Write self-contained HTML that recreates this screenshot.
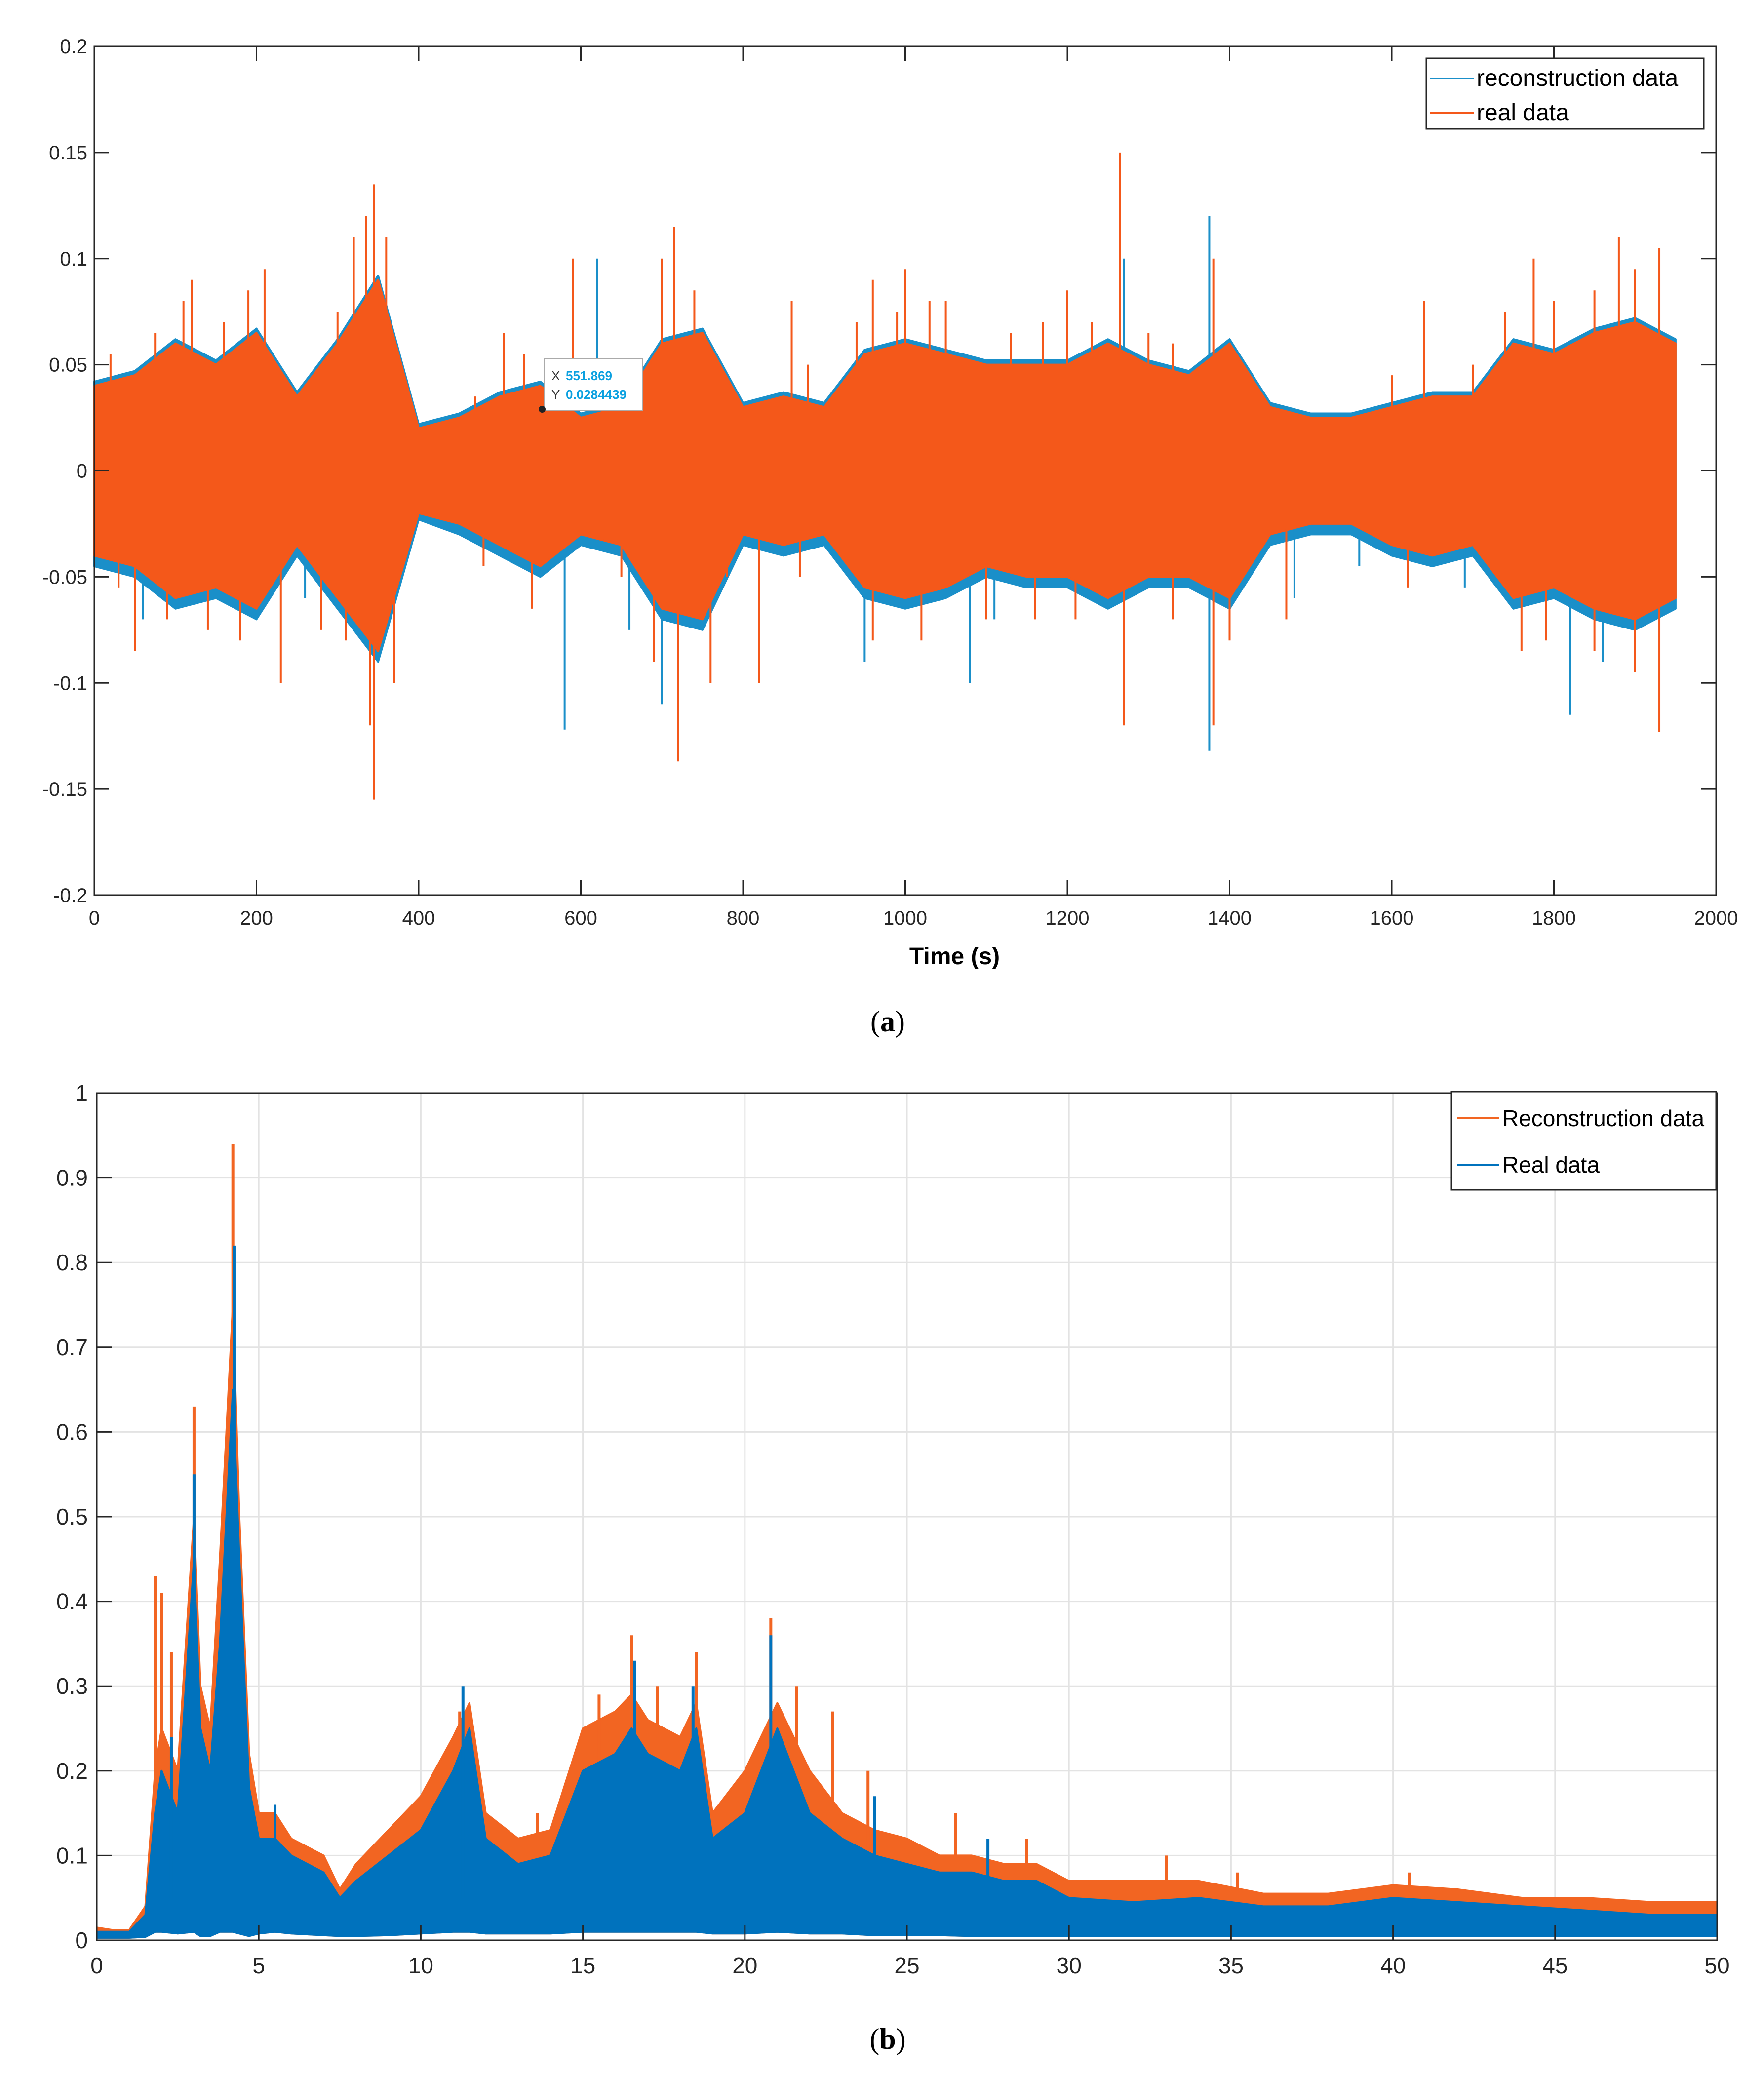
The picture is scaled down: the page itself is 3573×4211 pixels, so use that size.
<!DOCTYPE html>
<html><head><meta charset="utf-8"><style>
html,body{margin:0;padding:0;background:#fff;}
svg{display:block;font-family:"Liberation Sans",Arial,sans-serif;}
</style></head><body>
<svg id="fig" width="3573" height="4211" viewBox="0 0 3573 4211" xmlns="http://www.w3.org/2000/svg">
<rect width="3573" height="4211" fill="#fff"/>
<g id="chartA"></g>
<g id="chartB"></g>
</svg>
<script>
// ---------- Chart (a) data ----------
const aTime = [0,50,100,150,200,250,300,350,400,450,500,550,600,650,700,750,800,850,900,950,1000,1050,1100,1150,1200,1250,1300,1350,1400,1450,1500,1550,1600,1650,1700,1750,1800,1850,1900,1950];
const aOrangeUp = [0.04,0.045,0.06,0.05,0.065,0.035,0.06,0.09,0.02,0.025,0.035,0.04,0.025,0.03,0.06,0.065,0.03,0.035,0.03,0.055,0.06,0.055,0.05,0.05,0.05,0.06,0.05,0.045,0.06,0.03,0.025,0.025,0.03,0.035,0.035,0.06,0.055,0.065,0.07,0.06];
const aOrangeLo = [-0.04,-0.045,-0.06,-0.055,-0.065,-0.035,-0.06,-0.085,-0.02,-0.025,-0.035,-0.045,-0.03,-0.035,-0.065,-0.07,-0.03,-0.035,-0.03,-0.055,-0.06,-0.055,-0.045,-0.05,-0.05,-0.06,-0.05,-0.05,-0.06,-0.03,-0.025,-0.025,-0.035,-0.04,-0.035,-0.06,-0.055,-0.065,-0.07,-0.06];
const aBlueUp = [0.042,0.047,0.062,0.052,0.067,0.037,0.062,0.092,0.022,0.027,0.037,0.042,0.027,0.032,0.062,0.067,0.032,0.037,0.032,0.057,0.062,0.057,0.052,0.052,0.052,0.062,0.052,0.047,0.062,0.032,0.027,0.027,0.032,0.037,0.037,0.062,0.057,0.067,0.072,0.062];
const aBlueLo = [-0.045,-0.05,-0.065,-0.06,-0.07,-0.04,-0.065,-0.09,-0.023,-0.03,-0.04,-0.05,-0.035,-0.04,-0.07,-0.075,-0.035,-0.04,-0.035,-0.06,-0.065,-0.06,-0.05,-0.055,-0.055,-0.065,-0.055,-0.055,-0.065,-0.035,-0.03,-0.03,-0.04,-0.045,-0.04,-0.065,-0.06,-0.07,-0.075,-0.065];
const aOrangeSpikeT = [345,335,210,590,715,700,1265,1380,1880,1930,1775,1000,960,1050,505,120,860,1200,1640,345,340,720,230,1270,1930,760,50,820,1380,
  20,75,110,160,190,300,320,360,470,530,660,740,880,940,990,1030,1130,1170,1230,1300,1330,1420,1600,1700,1740,1800,1850,1900,
  30,90,140,180,280,310,370,480,540,650,690,780,870,960,1020,1100,1160,1210,1330,1400,1470,1620,1760,1790,1850,1900];
const aOrangeSpikeV = [0.135,0.12,0.095,0.1,0.115,0.1,0.15,0.1,0.11,0.105,0.1,0.095,0.09,0.08,0.065,0.09,0.08,0.085,0.08,-0.155,-0.12,-0.137,-0.1,-0.12,-0.123,-0.1,-0.085,-0.1,-0.12,
  0.055,0.065,0.08,0.07,0.085,0.075,0.11,0.11,0.035,0.055,0.045,0.085,0.05,0.07,0.075,0.08,0.065,0.07,0.07,0.065,0.06,0.045,0.045,0.05,0.075,0.08,0.085,0.095,
  -0.055,-0.07,-0.075,-0.08,-0.075,-0.08,-0.1,-0.045,-0.065,-0.05,-0.09,-0.05,-0.05,-0.08,-0.08,-0.07,-0.07,-0.07,-0.07,-0.08,-0.07,-0.055,-0.085,-0.08,-0.085,-0.095];
const aBlueSpikeT = [1375,620,1270,580,1375,1820,700,1270,1080,950,60,260,660,1110,1480,1560,1690,1860];
const aBlueSpikeV = [0.12,0.1,0.1,-0.122,-0.132,-0.115,-0.11,-0.115,-0.1,-0.09,-0.07,-0.06,-0.075,-0.07,-0.06,-0.045,-0.055,-0.09];
const aXTicks = [0,200,400,600,800,1000,1200,1400,1600,1800,2000];
const aYTicks = [-0.2,-0.15,-0.1,-0.05,0,0.05,0.1,0.15,0.2];
const aYLabels = ["-0.2","-0.15","-0.1","-0.05","0","0.05","0.1","0.15","0.2"];

// ---------- Chart (b) data ----------
const bFreq = [0,0.5,1,1.5,1.8,2,2.5,3,3.2,3.5,3.8,4,4.2,4.4,4.7,5,5.5,6,7,7.5,8,9,10,11,11.5,12,13,14,15,16,16.5,17,18,18.5,19,20,21,22,23,24,25,26,27,28,29,30,32,34,36,38,40,42,44,46,48,50];
const bBlueUp = [0.01,0.01,0.01,0.03,0.15,0.2,0.15,0.45,0.25,0.2,0.35,0.5,0.65,0.45,0.18,0.12,0.12,0.1,0.08,0.05,0.07,0.1,0.13,0.2,0.25,0.12,0.09,0.1,0.2,0.22,0.25,0.22,0.2,0.25,0.12,0.15,0.25,0.15,0.12,0.1,0.09,0.08,0.08,0.07,0.07,0.05,0.045,0.05,0.04,0.04,0.05,0.045,0.04,0.035,0.03,0.03];
const bOrangeUp = [0.015,0.012,0.012,0.04,0.2,0.25,0.2,0.5,0.3,0.25,0.45,0.6,0.75,0.5,0.22,0.15,0.15,0.12,0.1,0.06,0.09,0.13,0.17,0.24,0.28,0.15,0.12,0.13,0.25,0.27,0.29,0.26,0.24,0.28,0.15,0.2,0.28,0.2,0.15,0.13,0.12,0.1,0.1,0.09,0.09,0.07,0.07,0.07,0.055,0.055,0.065,0.06,0.05,0.05,0.045,0.045];
const bBlueLo = [0.003,0.003,0.003,0.004,0.01,0.01,0.008,0.01,0.005,0.005,0.01,0.01,0.01,0.008,0.005,0.008,0.01,0.008,0.006,0.005,0.005,0.006,0.008,0.01,0.01,0.008,0.008,0.008,0.01,0.01,0.01,0.01,0.01,0.01,0.008,0.008,0.01,0.008,0.008,0.006,0.006,0.006,0.005,0.005,0.005,0.005,0.005,0.005,0.005,0.005,0.005,0.005,0.005,0.005,0.005,0.005];
const bOrangeSpikeF = [1.8,2.0,2.3,3.0,4.2,16.5,18.5,20.8,22.7,33,11.2,15.5,9.5,13.6,17.3,21.6,23.8,26.5,28.7,35.2,40.5];
const bOrangeSpikeV = [0.43,0.41,0.34,0.63,0.94,0.36,0.34,0.38,0.27,0.1,0.27,0.29,0.13,0.15,0.3,0.3,0.2,0.15,0.12,0.08,0.08];
const bBlueSpikeF = [3.0,4.25,2.3,5.5,11.3,20.8,16.6,18.4,24,27.5];
const bBlueSpikeV = [0.55,0.82,0.24,0.16,0.3,0.36,0.33,0.3,0.17,0.12];
const bXTicks = [0,5,10,15,20,25,30,35,40,45,50];
const bYTicks = [0,0.1,0.2,0.3,0.4,0.5,0.6,0.7,0.8,0.9,1];
const bYLabels = ["0","0.1","0.2","0.3","0.4","0.5","0.6","0.7","0.8","0.9","1"];

const NS = "http://www.w3.org/2000/svg";
function mk(parent, tag, attrs, text){
  const e = document.createElementNS(NS, tag);
  for (const k in attrs) e.setAttribute(k, attrs[k]);
  if (text !== undefined) e.textContent = text;
  parent.appendChild(e);
  return e;
}

// ---------- draw (a) ----------
(function(){
  const g = document.getElementById('chartA');
  const L=191,R=3476,T=94,B=1813;
  const xA = t => L + t/2000*(R-L);
  const yA = v => T + (0.2 - v)/0.4*(B-T);
  function band(up, lo, color, name){
    let d = '';
    aTime.forEach((t,i)=>{ d += (i?'L':'M') + xA(t).toFixed(1) + ' ' + yA(up[i]).toFixed(1); });
    for (let i=aTime.length-1;i>=0;i--) d += 'L' + xA(aTime[i]).toFixed(1) + ' ' + yA(lo[i]).toFixed(1);
    d += 'Z';
    const p = mk(g,'path',{d:d,fill:color,stroke:color,'stroke-width':4,'stroke-linejoin':'round'});
    
    
  }
  function spikes(ts, vs, color, name){
    ts.forEach((t,i)=>{
      const l = mk(g,'line',{x1:xA(t),x2:xA(t),y1:yA(0),y2:yA(vs[i]),stroke:color,'stroke-width':4});
      
      
    });
  }
  band(aBlueUp, aBlueLo, '#1a8fc9', 'reconstruction-series-band');
  spikes(aBlueSpikeT, aBlueSpikeV, '#1a8fc9', 'reconstruction-spike');
  band(aOrangeUp, aOrangeLo, '#f4581a', 'real-series-band');
  spikes(aOrangeSpikeT, aOrangeSpikeV, '#f4581a', 'real-spike');
  const box = mk(g,'rect',{x:L,y:T,width:R-L,height:B-T,fill:'none',stroke:'#262626','stroke-width':3});
  
  
  aXTicks.forEach(t=>{
    const x = xA(t);
    mk(g,'line',{x1:x,x2:x,y1:B,y2:B-30,stroke:'#262626','stroke-width':3});
    mk(g,'line',{x1:x,x2:x,y1:T,y2:T+30,stroke:'#262626','stroke-width':3});
    const tx = mk(g,'text',{x:x,y:1873,'font-size':40,'text-anchor':'middle',fill:'#262626'}, String(t));
    
    
  });
  aYTicks.forEach((v,i)=>{
    const y = yA(v);
    mk(g,'line',{x1:L,x2:L+30,y1:y,y2:y,stroke:'#262626','stroke-width':3});
    mk(g,'line',{x1:R,x2:R-30,y1:y,y2:y,stroke:'#262626','stroke-width':3});
    const tx = mk(g,'text',{x:L-14,y:y+14,'font-size':40,'text-anchor':'end',fill:'#262626'}, aYLabels[i]);
    
    
  });
  const xt = mk(g,'text',{x:(L+R)/2+100,y:1953,'font-size':48,'font-weight':'bold','text-anchor':'middle',fill:'#000'}, 'Time (s)');
  
  
  const tip = mk(g,'g',{});
  
  
  mk(tip,'rect',{x:1103,y:726,width:199,height:105,fill:'#fff',stroke:'#aaa','stroke-width':2});
  mk(tip,'text',{x:1117,y:770,'font-size':26,fill:'#333'},'X');
  mk(tip,'text',{x:1146,y:770,'font-size':26,'font-weight':'bold',fill:'#0aa0e0'},'551.869');
  mk(tip,'text',{x:1117,y:808,'font-size':26,fill:'#333'},'Y');
  mk(tip,'text',{x:1146,y:808,'font-size':26,'font-weight':'bold',fill:'#0aa0e0'},'0.0284439');
  mk(tip,'circle',{cx:1098,cy:829,r:7,fill:'#222'});
  const lg = mk(g,'g',{});
  
  
  mk(lg,'rect',{x:2889,y:118,width:562,height:143,fill:'#fff',stroke:'#262626','stroke-width':3});
  mk(lg,'line',{x1:2896,x2:2986,y1:159,y2:159,stroke:'#1a8fc9','stroke-width':4});
  mk(lg,'text',{x:2991,y:174,'font-size':48,fill:'#000'},'reconstruction data');
  mk(lg,'line',{x1:2896,x2:2986,y1:229,y2:229,stroke:'#f4581a','stroke-width':4});
  mk(lg,'text',{x:2991,y:244,'font-size':48,fill:'#000'},'real data');
  const cap = mk(g,'text',{x:1798,y:2089,'font-size':60,'text-anchor':'middle','font-family':'Liberation Serif, serif',fill:'#000'});
  
  
  cap.innerHTML = '(<tspan font-weight="bold">a</tspan>)';
})();

// ---------- draw (b) ----------
(function(){
  const g = document.getElementById('chartB');
  const L=196,R=3478,T=2214,B=3930;
  const xB = f => L + f/50*(R-L);
  const yB = v => B - v*(B-T);
  bXTicks.forEach(f=>{ if(f>0&&f<50){ const l=mk(g,'line',{x1:xB(f),x2:xB(f),y1:T,y2:B,stroke:'#e3e3e3','stroke-width':3});   }});
  bYTicks.forEach(v=>{ if(v>0&&v<1){ const l=mk(g,'line',{x1:L,x2:R,y1:yB(v),y2:yB(v),stroke:'#e3e3e3','stroke-width':3});   }});
  function band(up, lo, color, name){
    let d='';
    bFreq.forEach((f,i)=>{ d += (i?'L':'M') + xB(f).toFixed(1)+' '+yB(up[i]).toFixed(1); });
    for (let i=bFreq.length-1;i>=0;i--) d += 'L'+xB(bFreq[i]).toFixed(1)+' '+yB(lo[i]).toFixed(1);
    d+='Z';
    const p = mk(g,'path',{d:d,fill:color,stroke:color,'stroke-width':4,'stroke-linejoin':'round'});
    
    
  }
  function spikes(fs, vs, color, name){
    fs.forEach((f,i)=>{
      const l = mk(g,'line',{x1:xB(f),x2:xB(f),y1:yB(0.05),y2:yB(vs[i]),stroke:color,'stroke-width':6});
      
      
    });
  }
  band(bOrangeUp, bBlueLo, '#f26522', 'reconstruction-series-band');
  spikes(bOrangeSpikeF, bOrangeSpikeV, '#f26522', 'reconstruction-spike');
  band(bBlueUp, bBlueLo, '#0072bd', 'real-series-band');
  spikes(bBlueSpikeF, bBlueSpikeV, '#0072bd', 'real-spike');
  const box = mk(g,'rect',{x:L,y:T,width:R-L,height:B-T,fill:'none',stroke:'#262626','stroke-width':3});
  
  
  bXTicks.forEach(f=>{
    const x=xB(f);
    mk(g,'line',{x1:x,x2:x,y1:B,y2:B-30,stroke:'#262626','stroke-width':3});
    const tx = mk(g,'text',{x:x,y:3997,'font-size':46,'text-anchor':'middle',fill:'#262626'}, String(f));
    
    
  });
  bYTicks.forEach((v,i)=>{
    const y=yB(v);
    mk(g,'line',{x1:L,x2:L+30,y1:y,y2:y,stroke:'#262626','stroke-width':3});
    const tx = mk(g,'text',{x:L-18,y:y+16,'font-size':46,'text-anchor':'end',fill:'#262626'}, bYLabels[i]);
    
    
  });
  const lg = mk(g,'g',{});
  
  
  mk(lg,'rect',{x:2940,y:2211,width:536,height:199,fill:'#fff',stroke:'#262626','stroke-width':3});
  mk(lg,'line',{x1:2951,x2:3037,y1:2265,y2:2265,stroke:'#f26522','stroke-width':4});
  mk(lg,'text',{x:3043,y:2281,'font-size':46,fill:'#000'},'Reconstruction data');
  mk(lg,'line',{x1:2951,x2:3037,y1:2359,y2:2359,stroke:'#0072bd','stroke-width':4});
  mk(lg,'text',{x:3043,y:2375,'font-size':46,fill:'#000'},'Real data');
  const cap = mk(g,'text',{x:1798,y:4150,'font-size':60,'text-anchor':'middle','font-family':'Liberation Serif, serif',fill:'#000'});
  
  
  cap.innerHTML = '(<tspan font-weight="bold">b</tspan>)';
})();
</script>
</body></html>
